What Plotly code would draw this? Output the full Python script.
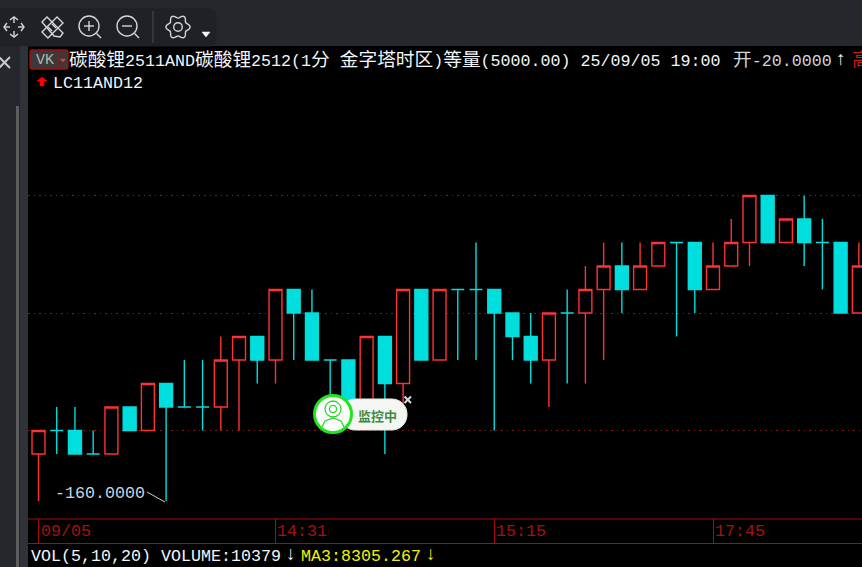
import math
import re
import plotly.graph_objects as go

W, H = 862, 567

# Candle values (the -160.0000 label and the -20.0000 open calibrate the scale)
opens = [-120, -100, -100, -120, -120, -80, -100, -60, -80, -80, -80, -40, -20, -40, 20, 0,
         -40, -40, -80, -20, -60, 20, -40, 20, 20, 20, 0, -20, -40, 0, 0, 20, 40, 20, 40, 60,
         60, 20, 40, 60, 100, 60, 80, 60, 60, 0]
highs = [-100, -80, -80, -100, -80, -80, -60, -60, -40, -40, -20, -20, -20, 20, 20, 20,
         -40, -40, -20, -20, 20, 20, 20, 20, 60, 20, 0, 0, 0, 20, 40, 60, 60, 60, 60, 60,
         60, 60, 80, 100, 100, 80, 100, 80, 60, 60]
lows = [-160, -120, -120, -120, -120, -100, -100, -160, -80, -100, -100, -100, -60, -60, -40, -40,
        -80, -80, -80, -120, -80, -40, -40, -40, -40, -100, -40, -60, -80, -60, -60, -40, 0, 20, 40, -20,
        0, 20, 40, 40, 60, 60, 40, 20, 0, 0]
closes = [-100, -100, -120, -120, -80, -100, -60, -80, -80, -80, -40, -20, -40, 20, 0, -40,
          -40, -80, -20, -60, 20, -40, 20, 20, 20, 0, -20, -40, 0, 0, 20, 40, 20, 40, 60, 60,
          20, 40, 60, 100, 60, 80, 60, 60, 0, 40]

grid_levels = [100, 0, -100]
tick_positions = [0, 13, 25, 37]
tick_labels = ["09/05", "14:31", "15:15", "17:45"]

RED = "#ff3232"
CYAN = "#00dede"
DARKRED = "#a80c0c"
PANEL = "#24272b"
TOOL = "#1e2125"
ICON = "#d4d6d8"

FONT = "Liberation Mono, Noto Sans CJK SC"


def fx(x):
    return x / W


def fy(y):
    return 1 - y / H


def rich(s, cjk=18.7):
    """Mixed-width run: CJK characters are slightly larger than the Latin ones."""
    return re.sub(r"([\u4e00-\u9fff]+)", rf"<span style='font-size:{cjk}px'>\1</span>", s)


shapes = []
annotations = []


def line(x0, y0, x1, y1, color=ICON, w=1.4, layer="above"):
    shapes.append(dict(type="line", xref="paper", yref="paper", x0=fx(x0), y0=fy(y0), x1=fx(x1), y1=fy(y1),
                       line=dict(color=color, width=w), layer=layer))


def circle(cx, cy, r, fill="rgba(0,0,0,0)", color=ICON, w=1.4, layer="above"):
    shapes.append(dict(type="circle", xref="paper", yref="paper", x0=fx(cx - r), x1=fx(cx + r),
                       y0=fy(cy + r), y1=fy(cy - r), fillcolor=fill,
                       line=dict(color=color, width=w), layer=layer))


def path(points, fill="rgba(0,0,0,0)", color=ICON, w=1.4, close=True, layer="above"):
    d = "M" + " L".join(f"{fx(x):.5f},{fy(y):.5f}" for x, y in points) + (" Z" if close else "")
    shapes.append(dict(type="path", xref="paper", yref="paper", path=d, fillcolor=fill,
                       line=dict(color=color, width=w), layer=layer))


def rrect(x0, y0, x1, y1, r, fill, color, w=1, layer="above"):
    pts = []
    for cx, cy, a0 in ((x1 - r, y0 + r, -90), (x1 - r, y1 - r, 0), (x0 + r, y1 - r, 90), (x0 + r, y0 + r, 180)):
        for k in range(9):
            a = math.radians(a0 + k * 90 / 8)
            pts.append((cx + r * math.cos(a), cy + r * math.sin(a)))
    path(pts, fill=fill, color=color, w=w, layer=layer)


def label(x, y, text, color="#ffffff", size=16.67, anchor="left", family=FONT):
    annotations.append(dict(xref="paper", yref="paper", x=fx(x), y=fy(y), text=text, showarrow=False,
                            xanchor=anchor, yanchor="middle", align="left", borderpad=0, borderwidth=0,
                            font=dict(family=family, size=size, color=color)))


# ---- window chrome ----
rrect(-6, 9, 216, 46, 6, TOOL, TOOL, layer="below")
path([(20, 46), (28, 46), (28, 567), (20, 567)], fill="#2f3236", color="#2f3236", w=0, layer="below")
path([(16, 106), (19, 106), (19, 567), (16, 567)], fill="#5c5e61", color="#5c5e61", w=0, layer="below")
line(-1, 57, 10, 68, "#c8c8c8", 2)
line(-1, 68, 10, 57, "#c8c8c8", 2)

# move icon
for a, b, c, d in ((4, 27, 10, 27), (18, 27, 24, 27), (14, 17, 14, 23), (14, 31, 14, 37)):
    line(a, b, c, d)
path([(7, 23), (4, 27), (7, 31)], close=False)
path([(21, 23), (24, 27), (21, 31)], close=False)
path([(10, 20), (14, 17), (18, 20)], close=False)
path([(10, 34), (14, 37), (18, 34)], close=False)
# ruler and pencil icon
path([(42, 22), (47, 17), (63, 33), (60, 37), (54, 36), (42, 22)])
path([(42, 32), (57, 17), (63, 23), (48, 38)])
line(48, 27, 52, 31)
line(52, 24, 56, 28)
# zoom in / zoom out
circle(89, 26, 10)
line(96.5, 33.5, 101, 38)
line(84, 26, 94, 26)
line(89, 21, 89, 31)
circle(127, 26, 10)
line(134.5, 33.5, 139, 38)
line(122, 26, 132, 26)
# separator
line(153, 11, 153, 43, "#4a4d50", 1)
# gear
gear = []
for k in range(73):
    a = math.radians(k * 5)
    r = 10.5 + 1.6 * math.cos(6 * a)
    gear.append((178 + r * math.cos(a), 27 + r * math.sin(a)))
path(gear)
circle(178, 27, 4.3)
path([(202, 32), (210, 32), (206, 37)], fill="#ffffff", color="#ffffff", w=0.5)

# VK button
rrect(30, 50, 68, 69, 2, "#3a3a3a", DARKRED, 1.4)
line(58, 50, 58, 69, DARKRED, 1.2)
path([(60.5, 59), (65.5, 59), (63, 62)], fill=RED, color=RED, w=0.5)
label(36, 60, "VK", color="#b4b4b4", size=15)
# red marker in front of the contract code
path([(42, 77), (37, 81), (40, 81), (40, 86), (44, 86), (44, 81), (47, 81)], fill="#ff0000", color="#ff0000", w=0.5)

# ---- header text ----
label(69, 61, rich("碳酸锂2511AND碳酸锂2512(1分 金字塔时区)等量(5000.00) 25/09/05 19:00"), color="#f2f6fa")
label(733, 61, rich("开-20.0000"), color="#cfd6dc")
label(835, 60, "↑", color="#f0f0f0", size=19)
label(852, 61, rich("高"), color="#c81818")
label(53, 83, "LC11AND12", color="#f2f6fa")

# ---- bottom strip ----
line(28, 519, 862, 519, DARKRED, 1)
for pos, text in zip(tick_positions, tick_labels):
    annotations.append(dict(xref="x", yref="paper", x=pos, y=fy(531.5), text=text, showarrow=False,
                            xanchor="left", yanchor="middle", xshift=1, borderpad=0,
                            font=dict(family=FONT, size=16.67, color="#a81010")))
label(31, 556, "VOL(5,10,20)", color="#f2f6fa")
label(161, 556, "VOLUME:10379", color="#f2f6fa")
label(285, 555, "↓", color="#f2f6fa", size=19)
label(301, 556, "MA3:8305.267", color="#f2f200")
label(425, 555, "↓", color="#f2f200", size=19)

# ---- price label with leader ----
label(55, 493, "-160.0000", color="#c8d6e4")
line(147, 492, 165, 502, "#d0d0d0", 1)

# ---- monitoring badge ----
rrect(340, 399, 407, 430, 15, "#f4f6f4", "#dfe8df", 1)
circle(333, 414, 18.5, fill="#ffffff", color="#1fe61f", w=3)
circle(333, 409, 8, color="#2fd42f", w=1.3)
circle(333, 409, 3.6, color="#2fd42f", w=1.3)
path([(322, 427), (325, 421), (333, 418), (341, 421), (344, 427)], color="#2fd42f", w=1.3, close=False)
label(377, 415, "<b>监控中</b>", color="#3f8a3f", size=13, anchor="center", family="Noto Sans CJK SC")
line(404.5, 396.5, 411, 403, "#dcdcdc", 2)
line(404.5, 403, 411, 396.5, "#dcdcdc", 2)

# ---- candles ----
n = len(opens)
xs = list(range(n))
up = [i for i in xs if closes[i] > opens[i]]
down = [i for i in xs if closes[i] <= opens[i]]


def candles(idx, line_color, fill):
    style = dict(line=dict(color=line_color, width=1.4), fillcolor=fill)
    return go.Candlestick(x=idx,
                          open=[opens[i] for i in idx], high=[highs[i] for i in idx],
                          low=[lows[i] for i in idx], close=[closes[i] for i in idx],
                          increasing=style, decreasing=style, whiskerwidth=0,
                          showlegend=False)


fig = go.Figure([candles(up, RED, "#000000"), candles(down, CYAN, CYAN)])

STEP = 18.23
X0 = 38.5
PX_PER_UNIT = 1.175
Y0 = 313

fig.update_layout(
    width=W, height=H, autosize=False,
    margin=dict(l=0, r=0, t=0, b=0, pad=0),
    paper_bgcolor=PANEL, plot_bgcolor="#000000",
    showlegend=False, dragmode=False,
    boxmode="overlay", boxgap=0.29, boxgroupgap=0,
    shapes=shapes, annotations=annotations,
    xaxis=dict(domain=[28 / W, 1], range=[(28 - X0) / STEP, (W - X0) / STEP],
               anchor="free", position=24 / H, rangeslider=dict(visible=False),
               showgrid=False, zeroline=False, showline=True, linecolor=DARKRED, linewidth=1,
               ticks="inside", ticklen=24, tickwidth=1, tickcolor=DARKRED,
               tickmode="array", tickvals=tick_positions, ticktext=tick_labels, showticklabels=False),
    yaxis=dict(domain=[0, 1 - 46 / H], anchor="x",
               range=[(Y0 - H) / PX_PER_UNIT, (Y0 - 46) / PX_PER_UNIT],
               tickmode="array", tickvals=grid_levels, showticklabels=False, ticks="",
               showgrid=True, gridcolor="#8a1a1a", gridwidth=1, griddash="1.5px,4px",
               zeroline=False, showline=False),
)

fig.write_html("out.html", config=dict(displayModeBar=False),
               post_script="document.body.style.margin='0';document.documentElement.style.overflow='hidden';")
